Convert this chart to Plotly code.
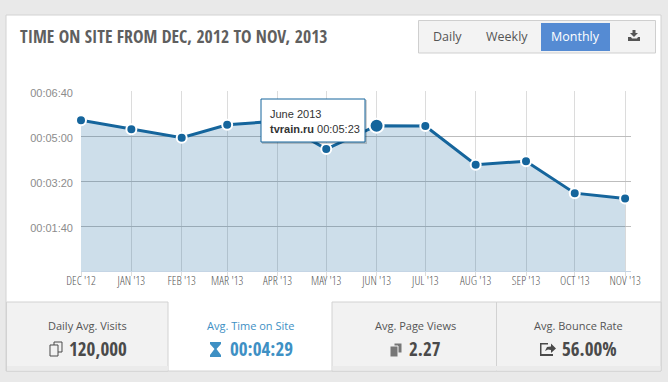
import plotly.graph_objects as go

W, H = 668, 382
months = ["2012-12-01","2013-01-01","2013-02-01","2013-03-01","2013-04-01","2013-05-01",
          "2013-06-01","2013-07-01","2013-08-01","2013-09-01","2013-10-01","2013-11-01"]
seconds = [335, 315, 296, 325, 333, 271, 323, 322, 236, 244, 173, 161]
marker_sizes = [10, 10, 10, 10, 10, 10, 14, 10, 10, 10, 10, 10]
x_labels = ["DEC '12","JAN '13","FEB '13","MAR '13","APR '13","MAY '13",
            "JUN '13","JUL '13","AUG '13","SEP '13","OCT '13","NOV '13"]
y_vals = [0, 100, 200, 300, 400]
y_labels = ["", "00:01:40", "00:03:20", "00:05:00", "00:06:40"]
title_text = "TIME ON SITE FROM DEC, 2012 TO NOV, 2013"
tabs = [("Daily Avg. Visits", "120,000"), ("Avg. Time on Site", "00:04:29"),
        ("Avg. Page Views", "2.27"), ("Avg. Bounce Rate", "56.00%")]

COND = "Open Sans Condensed, Open Sans"
LIGHT = "Open Sans Condensed Light, Open Sans Condensed, Open Sans"
SANS = "Open Sans"
HELV = "Liberation Sans"

def X(px): return px / W
def Y(py): return 1 - py / H

shapes, ann = [], []

def rect(x0, y0, x1, y1, fill, line=None, lw=1, layer="below"):
    shapes.append(dict(type="rect", xref="paper", yref="paper", x0=X(x0), x1=X(x1), y0=Y(y1), y1=Y(y0),
                       fillcolor=fill, line=dict(color=line or fill, width=lw if line else 0), layer=layer))

def text(x, y, s, size, color, family=SANS, anchor="center"):
    ann.append(dict(xref="paper", yref="paper", x=X(x), y=Y(y), text=s, showarrow=False, xanchor=anchor,
                    yanchor="middle", font=dict(size=size, color=color, family=family)))

def icon(path_pts, fill, line=None, layer="above"):
    d = "M" + " L".join(f"{X(a):.5f},{Y(b):.5f}" for a, b in path_pts) + " Z"
    shapes.append(dict(type="path", xref="paper", yref="paper", path=d, fillcolor=fill,
                       line=dict(color=line or fill, width=1 if line else 0), layer=layer))

# card
rect(6, 15, 661, 371, "#ffffff", "#d2d2d2")
# button group
rect(418.5, 20.5, 655.5, 53, "#f3f3f3", "#cfcfcf")
rect(541, 23, 610, 51, "#558bd3")
text(447, 36.5, "Daily", 12.5, "#555555")
text(507, 36.5, "Weekly", 12.5, "#555555")
text(575.5, 36.5, "Monthly", 12.5, "#ffffff")
icon([(628, 37), (631, 37), (632, 38.5), (637, 38.5), (638, 37), (640, 37), (640, 41), (628, 41)], "#555555")
icon([(632.5, 30), (635.5, 30), (635.5, 33), (638, 33), (634, 37), (630, 33), (632.5, 33)], "#555555")
text(18, 36, f"<b>{title_text}</b>", 17.7, "#5f5f5f", COND, "left")

# tabs
rect(6.5, 302, 168, 371, "#f2f2f2", "#d2d2d2")
rect(332, 302, 496.5, 371, "#f2f2f2", "#d2d2d2")
rect(496.5, 302, 661, 371, "#f2f2f2", "#d2d2d2")
rect(7, 366, 168, 370.5, "#ebebeb")
rect(332.5, 366, 660.5, 370.5, "#ebebeb")
centers = [87.5, 250.5, 415, 578]
for i, (c, (lab, val)) in enumerate(zip(centers, tabs)):
    col = "#3e90c4" if i == 1 else "#555555"
    text(c, 325, lab, 11, col)
vals_x = [98, 261, 425, 589]
for i, (c, (lab, val)) in enumerate(zip(vals_x, tabs)):
    col = "#3e90c4" if i == 1 else "#4a4a4a"
    text(c, 349, f"<b>{val}</b>", 19, col, COND)

# tab icons
def copy_icon(ox, oy, fill, line):
    icon([(ox+4, oy), (ox+12, oy), (ox+12, oy+10), (ox+4, oy+10)], fill, line)
    icon([(ox, oy+3), (ox+8, oy+3), (ox+8, oy+14), (ox, oy+14)], fill, line)
copy_icon(50, 342, "#f2f2f2", "#4a4a4a")
copy_icon(390, 343, "#777777", "#f2f2f2")
# hourglass
icon([(210, 342), (221, 342), (221, 344), (216.5, 349), (221, 355), (221, 357), (210, 357), (210, 355), (214.5, 349), (210, 344)], "#3e90c4")
# share arrow
icon([(540, 343), (548, 343), (548, 344.5), (541.5, 344.5), (541.5, 354), (553, 354), (553, 356), (540, 356)], "#4a4a4a")
icon([(545, 351), (547, 347), (551, 346.5), (551, 343.5), (556, 348.5), (551, 353), (551, 350), (548, 349.5)], "#4a4a4a")

# tooltip
rect(262, 100, 367, 144, "rgba(0,0,0,0.18)", layer="above")
rect(261, 99, 365, 142, "#ffffff", "#15659c", layer="above")
text(268, 114, "June 2013", 11, "#333333", HELV, "left")
text(268, 129, "<b>tvrain.ru</b> 00:05:23", 11, "#333333", HELV, "left")

fig = go.Figure(go.Scatter(
    x=months, y=seconds, mode="lines+markers", fill="tozeroy",
    fillcolor="rgba(21,101,156,0.21)",
    line=dict(color="#15659c", width=3),
    marker=dict(color="#15659c", size=marker_sizes, opacity=1, line=dict(color="#ffffff", width=2)),
    cliponaxis=False, hoverinfo="skip"))

fig.update_layout(
    width=W, height=H, autosize=False, margin=dict(l=0, r=0, t=0, b=0, pad=0),
    paper_bgcolor="#e9e9e9", plot_bgcolor="rgba(0,0,0,0)", showlegend=False,
    shapes=shapes, annotations=ann,
    xaxis=dict(type="date", automargin=False, domain=[X(81), X(630.5)], range=["2012-12-01", "2013-11-04 08:00"],
               tickmode="array", tickvals=months, ticktext=x_labels, showgrid=True, gridcolor="#dcdcdc",
               gridwidth=1, ticks="outside", ticklen=4, tickcolor="#dcdcdc",
               tickfont=dict(family=LIGHT, size=12, color="#555555"), tickangle=0,
               ticklabelstandoff=-5,
               showline=True, linecolor="#c5d5e5", linewidth=1, zeroline=False),
    yaxis=dict(automargin=False, domain=[Y(271), Y(91)], range=[0, 400], tickmode="array", tickvals=y_vals, ticktext=y_labels,
               showgrid=True, gridcolor="#bdbdbd", gridwidth=1, zeroline=False,
               tickfont=dict(family=HELV, size=11, color="#8c8c8c"), ticklabelstandoff=7, ticklabelshift=2,
               showline=False, ticks=""),
)
fig.write_html("out.html", config=dict(displayModeBar=False), post_script="document.body.style.margin='0';")
